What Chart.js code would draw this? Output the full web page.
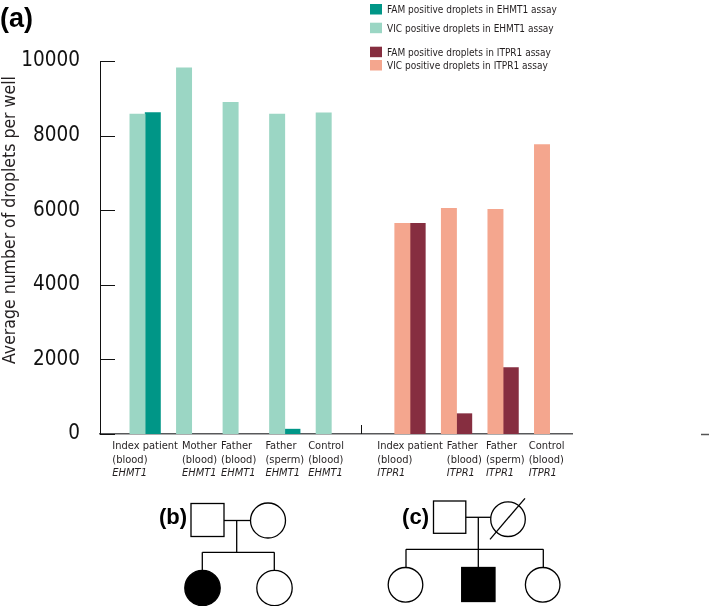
<!DOCTYPE html>
<html>
<head>
<meta charset="utf-8">
<script src="https://cdn.jsdelivr.net/npm/chart.js@4.4.1/dist/chart.umd.min.js"></script>
<style>
  html, body { margin: 0; padding: 0; background: #fff; }
  #wrap { position: relative; width: 709px; height: 606px; }
  #myChart, #ped { position: absolute; left: 0; top: 0; }
</style>
</head>
<body>
<div id="wrap">
  <canvas id="myChart" width="709" height="606"></canvas>
  <svg id="ped" width="709" height="606" xmlns="http://www.w3.org/2000/svg"
       font-family="'Liberation Sans', Arial, sans-serif" font-weight="bold">
    <text x="0" y="27" font-size="27">(a)</text>

    <!-- (b) pedigree -->
    <g fill="none" stroke="#000" stroke-width="1.3">
      <rect x="191" y="503.5" width="33" height="33" />
      <circle cx="268" cy="520.5" r="17.5" />
      <line x1="224" y1="520.5" x2="250.5" y2="520.5" />
      <line x1="236.7" y1="520.5" x2="236.7" y2="552.3" />
      <line x1="202.3" y1="552.3" x2="274.3" y2="552.3" />
      <line x1="202.3" y1="552.3" x2="202.3" y2="570" />
      <line x1="274.3" y1="552.3" x2="274.3" y2="570" />
      <circle cx="202.5" cy="588" r="17.7" fill="#000" />
      <circle cx="274.5" cy="588" r="17.7" />
    </g>
    <text x="187" y="524" font-size="22" text-anchor="end">(b)</text>

    <!-- (c) pedigree -->
    <g fill="none" stroke="#000" stroke-width="1.3">
      <rect x="433.5" y="501" width="32.3" height="32.3" />
      <circle cx="508" cy="519.2" r="17.3" />
      <line x1="490" y1="539.3" x2="525" y2="498.3" />
      <line x1="465.8" y1="517.3" x2="490.7" y2="517.3" />
      <line x1="478.3" y1="517.3" x2="478.3" y2="549.3" />
      <line x1="406" y1="549.3" x2="543.3" y2="549.3" />
      <line x1="406" y1="549.3" x2="406" y2="567.5" />
      <line x1="478.3" y1="549.3" x2="478.3" y2="567.5" />
      <line x1="543.3" y1="549.3" x2="543.3" y2="567.5" />
      <circle cx="405.5" cy="584.8" r="17.3" />
      <rect x="461.7" y="567.5" width="33.3" height="34" fill="#000" />
      <circle cx="542.7" cy="584.8" r="17.3" />
    </g>
    <text x="429" y="524" font-size="22" text-anchor="end">(c)</text>
  </svg>
</div>
<script>
// sample names for each assay (three lines per label, last line is the gene)
const ehmt1Samples = [
  ['Index patient', '(blood)', 'EHMT1'],
  ['Mother', '(blood)', 'EHMT1'],
  ['Father', '(blood)', 'EHMT1'],
  ['Father', '(sperm)', 'EHMT1'],
  ['Control', '(blood)', 'EHMT1']
];
const itpr1Samples = [
  ['Index patient', '(blood)', 'ITPR1'],
  ['Father', '(blood)', 'ITPR1'],
  ['Father', '(sperm)', 'ITPR1'],
  ['Control', '(blood)', 'ITPR1']
];

// average droplets per well
const ehmt1Vic = [8580, 9820, 8890, 8580, 8610];
const ehmt1Fam = [8620, null, null, 130, null];
const itpr1Vic = [5650, 6050, 6020, 7760];
const itpr1Fam = [5650, 545, 1780, null];

const yTicks = [0, 2000, 4000, 6000, 8000, 10000];

const colEhmt1Fam = '#009687';
const colEhmt1Vic = '#9bd6c4';
const colItpr1Fam = '#862e40';
const colItpr1Vic = '#f4a68e';

const narrow = "'Liberation Sans Narrow', 'DejaVu Sans Condensed', 'Arial Narrow', sans-serif";
const barW = 15.3;
const groupGap = 1.69;

// category slots along the x axis, second assay shifted by the group gap
const ehmt1Pos = ehmt1Samples.map((s, i) => i);
const itpr1Pos = itpr1Samples.map((s, i) => ehmt1Samples.length - 1 + groupGap + i);
const allPos = ehmt1Pos.concat(itpr1Pos);

function toPoints(pos, vals) {
  return vals.map((v, i) => ({ x: pos[i], y: v })).filter(p => p.y !== null);
}

const legendItems = [
  ['FAM positive droplets in EHMT1 assay', colEhmt1Fam, 4],
  ['VIC positive droplets in EHMT1 assay', colEhmt1Vic, 22.7],
  ['FAM positive droplets in ITPR1 assay', colItpr1Fam, 46.7],
  ['VIC positive droplets in ITPR1 assay', colItpr1Vic, 60]
];

const extras = {
  id: 'extras',
  afterDraw(chart) {
    const ctx = chart.ctx;
    const xs = chart.scales.x, ys = chart.scales.y;
    const area = chart.chartArea;
    ctx.save();

    // inward tick marks on the y axis
    ctx.strokeStyle = '#111';
    ctx.lineWidth = 1;
    yTicks.forEach(v => {
      const y = Math.round(ys.getPixelForValue(v)) + 0.5;
      ctx.beginPath();
      ctx.moveTo(area.left, y);
      ctx.lineTo(area.left + 15, y);
      ctx.stroke();
    });

    // small separator tick between the two assays
    const sx = Math.round(xs.getPixelForValue(ehmt1Pos[ehmt1Pos.length - 1] + groupGap * 0.38)) + 0.5;
    ctx.beginPath();
    ctx.moveTo(sx, area.bottom);
    ctx.lineTo(sx, area.bottom - 9);
    ctx.stroke();

    // stray axis stub at the right edge
    ctx.strokeStyle = '#555';
    ctx.lineWidth = 1.5;
    ctx.beginPath();
    ctx.moveTo(chart.width - 8, area.bottom + 0.5);
    ctx.lineTo(chart.width, area.bottom + 0.5);
    ctx.stroke();

    // x labels, left aligned blocks under the bars, pushed right if they would collide
    ctx.fillStyle = '#231f20';
    ctx.textBaseline = 'middle';
    ctx.textAlign = 'left';
    const drawLabels = (samples, pos, fam) => {
      let prevRight = -Infinity;
      samples.forEach((lines, i) => {
        let cx = xs.getPixelForValue(pos[i]);
        if (fam[i] === null) cx -= barW / 2;
        ctx.font = '11px ' + narrow;
        const w = Math.max(ctx.measureText(lines[0]).width, ctx.measureText(lines[1]).width);
        const left = Math.max(cx - w / 2, prevRight + 4);
        prevRight = left + w;
        ctx.fillText(lines[0], left, 446);
        ctx.fillText(lines[1], left, 460);
        ctx.font = 'italic 11px ' + narrow;
        ctx.fillText(lines[2], left, 473);
      });
    };
    drawLabels(ehmt1Samples, ehmt1Pos, ehmt1Fam);
    drawLabels(itpr1Samples, itpr1Pos, itpr1Fam);

    // y axis title
    ctx.save();
    ctx.translate(10, 220);
    ctx.rotate(-Math.PI / 2);
    ctx.textAlign = 'center';
    ctx.font = '17.5px ' + narrow;
    ctx.fillText('Average number of droplets per well', 0, 0);
    ctx.restore();

    // legend
    ctx.font = '10px ' + narrow;
    legendItems.forEach(([text, col, top]) => {
      ctx.fillStyle = col;
      ctx.fillRect(370, top, 12, 10.5);
      ctx.fillStyle = '#231f20';
      ctx.fillText(text, 387, top + 6.5);
    });

    ctx.restore();
  }
};

const chart_obj = document.getElementById('myChart');

new Chart(chart_obj, {
  type: 'bar',
  data: {
    datasets: [
      { label: 'VIC positive droplets in EHMT1 assay', data: toPoints(ehmt1Pos, ehmt1Vic), backgroundColor: colEhmt1Vic, stack: 'vic' },
      { label: 'FAM positive droplets in EHMT1 assay', data: toPoints(ehmt1Pos, ehmt1Fam), backgroundColor: colEhmt1Fam, stack: 'fam' },
      { label: 'VIC positive droplets in ITPR1 assay', data: toPoints(itpr1Pos, itpr1Vic), backgroundColor: colItpr1Vic, stack: 'vic' },
      { label: 'FAM positive droplets in ITPR1 assay', data: toPoints(itpr1Pos, itpr1Fam), backgroundColor: colItpr1Fam, stack: 'fam' }
    ]
  },
  options: {
    responsive: false,
    animation: false,
    barThickness: barW,
    layout: { padding: { top: 61, right: 137, left: 0, bottom: 0 } },
    plugins: {
      legend: { display: false },
      tooltip: { enabled: false }
    },
    scales: {
      x: {
        type: 'linear',
        offset: false,
        min: -0.97,
        max: allPos[allPos.length - 1] + 0.48,
        grid: { display: false, drawTicks: false, offset: false },
        border: { display: true, color: '#58595b', width: 1.5 },
        ticks: { display: false },
        afterBuildTicks: s => { s.ticks = allPos.map(v => ({ value: v })); },
        afterFit: s => { s.height = 172; }
      },
      y: {
        min: 0,
        max: 10000,
        grid: { display: false, drawTicks: false },
        border: { display: true, color: '#111', width: 1 },
        ticks: {
          color: '#111',
          padding: 20,
          font: { family: narrow, size: 20.5 },
          callback: v => String(v)
        },
        afterBuildTicks: s => { s.ticks = yTicks.map(v => ({ value: v })); },
        afterFit: s => { s.width = 100; }
      }
    }
  },
  plugins: [extras]
});
</script>
</body>
</html>
